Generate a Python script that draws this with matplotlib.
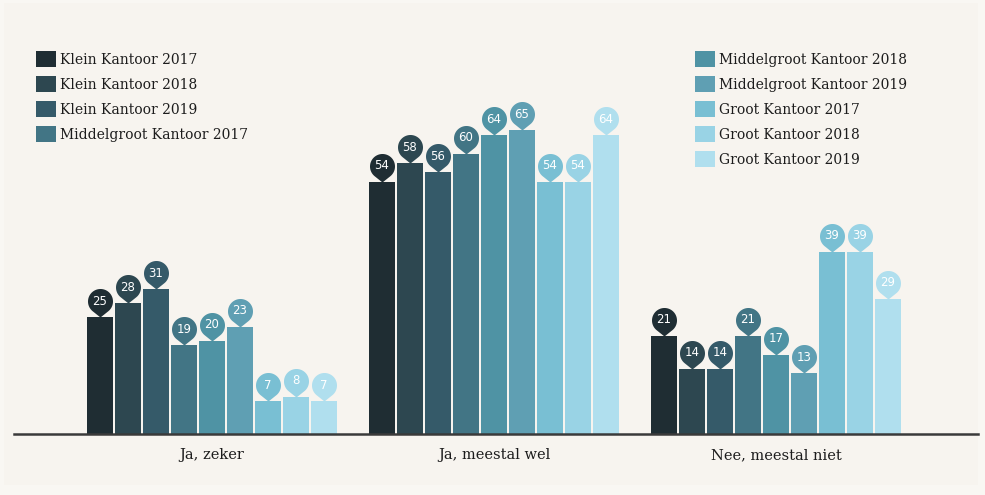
import matplotlib
matplotlib.use("Agg")
import matplotlib.pyplot as plt
import numpy as np
from matplotlib.path import Path
from matplotlib.patches import Rectangle

# Survey answers per office size and year (percentages)
categories = ["Ja, zeker", "Ja, meestal wel", "Nee, meestal niet"]
series_names = [
    "Klein Kantoor 2017", "Klein Kantoor 2018", "Klein Kantoor 2019",
    "Middelgroot Kantoor 2017", "Middelgroot Kantoor 2018", "Middelgroot Kantoor 2019",
    "Groot Kantoor 2017", "Groot Kantoor 2018", "Groot Kantoor 2019",
]
ja_zeker = [25, 28, 31, 19, 20, 23, 7, 8, 7]
ja_meestal_wel = [54, 58, 56, 60, 64, 65, 54, 54, 64]
nee_meestal_niet = [21, 14, 14, 21, 17, 13, 39, 39, 29]

colors = [
    "#1f2d33", "#2d4750", "#355a69",
    "#427585", "#4f93a4", "#5f9fb3",
    "#79bfd3", "#99d3e5", "#b0dfee",
]

values = np.array([ja_zeker, ja_meestal_wel, nee_meestal_niet])

# pin marker: circle with a small point, tip at the origin
r, d = 12.5, 16.0
phi = np.arccos(r / d)
ang = np.linspace(-np.pi / 2 + phi, 3 * np.pi / 2 - phi, 60)
verts = [(0.0, 0.0)] + [(r * np.cos(a), d + r * np.sin(a)) for a in ang] + [(0.0, 0.0)]
codes = [Path.MOVETO] + [Path.LINETO] * (len(verts) - 2) + [Path.CLOSEPOLY]
pin = Path(verts, codes)
pin_size = 2 * (d + r) * 0.72  # points, marker is scaled by its largest extent

fig = plt.figure(figsize=(9.85, 4.95), dpi=100, facecolor="#f9f7f3")
fig.patches.append(Rectangle((4 / 985, 10 / 495), 974 / 985, 482 / 495,
                             transform=fig.transFigure, facecolor="#f7f4ef",
                             edgecolor="none", zorder=-1))

ax = fig.add_axes([14 / 985, 61 / 495, 964 / 985, 394 / 495])
ax.set_facecolor("none")

group_step = 282 / 28
width = 0.91
bars = []
for j, name in enumerate(series_names):
    x = np.arange(len(categories)) * group_step + (j - 4)
    b = ax.bar(x, values[:, j], width=width, color=colors[j], label=name, zorder=2)
    bars.append(b)
    for xi, v in zip(x, values[:, j]):
        ax.plot(xi, v, marker=pin, markersize=pin_size, color=colors[j],
                markeredgewidth=0, zorder=3, clip_on=False)
        ax.annotate(str(v), (xi, v), xytext=(0, d * 0.72), textcoords="offset points",
                    ha="center", va="center", color="white", fontsize=8.5,
                    family="DejaVu Sans", zorder=4)

ax.set_xlim(-198 / 28, 766 / 28)
ax.set_ylim(0, 394 / 4.67)
ax.set_xticks(np.arange(len(categories)) * group_step)
ax.set_xticklabels(categories, family="DejaVu Serif", fontsize=10.5, color="#1c1c1c")
ax.tick_params(axis="x", length=0, pad=10)
ax.set_yticks([])
for side in ["top", "right", "left"]:
    ax.spines[side].set_visible(False)
ax.spines["bottom"].set_color("#3a3a3a")
ax.spines["bottom"].set_linewidth(1.8)
ax.spines["bottom"].set_zorder(5)

legend_kw = dict(frameon=False, loc="upper left", borderpad=0, borderaxespad=0,
                 handlelength=1.44, handleheight=1.44, handletextpad=0.3,
                 labelspacing=0.62, prop={"family": "DejaVu Serif", "size": 10},
                 labelcolor="#1c1c1c")
fig.legend(bars[:4], series_names[:4], bbox_to_anchor=(36 / 985, 1 - 51 / 495),
           **legend_kw)
fig.legend(bars[4:], series_names[4:], bbox_to_anchor=(695 / 985, 1 - 51 / 495),
           **legend_kw)

fig.savefig("out.png", dpi=100, facecolor=fig.get_facecolor())
